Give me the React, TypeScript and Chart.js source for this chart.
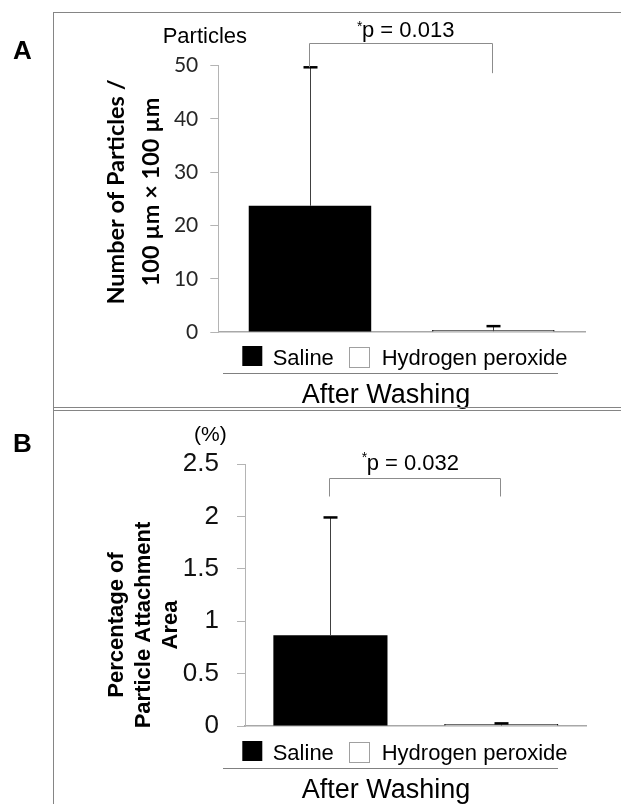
import React, { useEffect, useRef } from 'react';
import { Chart, registerables } from 'chart.js';

Chart.register(...registerables);

// ---------- data ----------
const categories = ['Saline', 'Hydrogen peroxide'];
const barFill = ['#000000', '#ffffff'];

const particleMeans = [23.7, 0.15];
const particleErrors = [26.0, 0.95];
const particleTicks = [0, 10, 20, 30, 40, 50];
const particleP = '0.013';
const particleBracket = [54.2, 49.7, 48.6]; // bracket level, left leg end, right leg end

const areaMeans = [0.865, 0.005];
const areaErrors = [1.125, 0.02];
const areaTicks = [0, 0.5, 1, 1.5, 2, 2.5];
const areaP = '0.032';
const areaBracket = [2.37, 2.19, 2.19];

type PanelCfg = {
  letter: string;
  letterBaseline: number;
  means: number[];
  errors: number[];
  ticks: number[];
  pText: string;
  bracket: number[];
  pX: number;
  pBaseline: number;
  starBaseline: number;
  unit: string;
  unitFont: string;
  unitX: number;
  unitBaseline: number;
  titleLines: string[];
  titleFont: string;
  titleBaselines: number[];
  titleCenterY: number;
  tickFont: { family: string; size: number };
  tickColor: string;
  tickPadding: number;
  legendBoxTop: number;
  legendBaseline: number;
  lineY: number;
  afterBaseline: number;
  padding: { left: number; top: number; right: number; bottom: number };
};

const SANS = "'Liberation Sans', Arial, sans-serif";
const Y_AXIS_BOX = 100;

const panelA: PanelCfg = {
  letter: 'A',
  letterBaseline: 59,
  means: particleMeans,
  errors: particleErrors,
  ticks: particleTicks,
  pText: particleP,
  bracket: particleBracket,
  pX: 362,
  pBaseline: 36.7,
  starBaseline: 31,
  unit: 'Particles',
  unitFont: `22px ${SANS}`,
  unitX: 162.7,
  unitBaseline: 43.3,
  titleLines: ['Number of Particles /', '100 \u00b5m \u00d7 100 \u00b5m'],
  titleFont: "bold 23.5px Lato, 'Open Sans', sans-serif",
  titleBaselines: [124, 159],
  titleCenterY: 192,
  tickFont: { family: "Lato, 'Open Sans', sans-serif", size: 21 },
  tickColor: '#262626',
  tickPadding: 12,
  legendBoxTop: 346,
  legendBaseline: 365,
  lineY: 373.3,
  afterBaseline: 402.7,
  padding: { left: 218.3 - Y_AXIS_BOX, top: 65.7, right: 36, bottom: 80 },
};

const panelB: PanelCfg = {
  letter: 'B',
  letterBaseline: 46,
  means: areaMeans,
  errors: areaErrors,
  ticks: areaTicks,
  pText: areaP,
  bracket: areaBracket,
  pX: 366.7,
  pBaseline: 64,
  starBaseline: 56,
  unit: '(%)',
  unitFont: `21px ${SANS}`,
  unitX: 194,
  unitBaseline: 35,
  titleLines: ['Percentage of', 'Particle Attachment', 'Area'],
  titleFont: `bold 22px ${SANS}`,
  titleBaselines: [123.3, 150, 176.7],
  titleCenterY: 219,
  tickFont: { family: SANS, size: 26 },
  tickColor: '#111111',
  tickPadding: 18,
  legendBoxTop: 335,
  legendBaseline: 354,
  lineY: 361.7,
  afterBaseline: 392.3,
  padding: { left: 245 - Y_AXIS_BOX, top: 58, right: 34.3, bottom: 78 },
};

function buildChart(canvas: HTMLCanvasElement, cfg: PanelCfg) {
  const decor = {
    id: 'panelDecor',
    afterDatasetsDraw(chart: any) {
      const ctx = chart.ctx as CanvasRenderingContext2D;
      const ys = chart.scales.y;
      const meta = chart.getDatasetMeta(0);
      ctx.save();
      // error bars (upper only)
      meta.data.forEach((bar: any, i: number) => {
        const x = Math.round(bar.x) + 0.5;
        const y0 = ys.getPixelForValue(cfg.means[i]);
        const y1 = ys.getPixelForValue(cfg.means[i] + cfg.errors[i]);
        ctx.strokeStyle = '#404040';
        ctx.lineWidth = 1;
        ctx.beginPath();
        ctx.moveTo(x, y0);
        ctx.lineTo(x, y1);
        ctx.stroke();
        ctx.strokeStyle = '#000000';
        ctx.lineWidth = 2.5;
        ctx.beginPath();
        ctx.moveTo(x - 7, y1);
        ctx.lineTo(x + 7, y1);
        ctx.stroke();
      });
      // significance bracket
      const xl = Math.round(meta.data[0].x) - 0.5;
      const xr = Math.round(meta.data[1].x) - 0.5;
      const yt = Math.round(ys.getPixelForValue(cfg.bracket[0])) + 0.5;
      const yl = ys.getPixelForValue(cfg.bracket[1]);
      const yr = ys.getPixelForValue(cfg.bracket[2]);
      ctx.strokeStyle = '#8c8c8c';
      ctx.lineWidth = 1;
      ctx.beginPath();
      ctx.moveTo(xl, yl);
      ctx.lineTo(xl, yt);
      ctx.lineTo(xr, yt);
      ctx.lineTo(xr, yr);
      ctx.stroke();
      ctx.restore();
    },
    afterDraw(chart: any) {
      const ctx = chart.ctx as CanvasRenderingContext2D;
      ctx.save();
      ctx.fillStyle = '#000000';
      ctx.textBaseline = 'alphabetic';
      // panel letter
      ctx.font = `bold 26px ${SANS}`;
      ctx.textAlign = 'left';
      ctx.fillText(cfg.letter, 13, cfg.letterBaseline);
      // unit label
      ctx.font = cfg.unitFont;
      ctx.fillText(cfg.unit, cfg.unitX, cfg.unitBaseline);
      // p value
      ctx.font = `14px ${SANS}`;
      ctx.fillText('*', cfg.pX - 5, cfg.starBaseline);
      ctx.font = `22px ${SANS}`;
      ctx.fillText('p = ' + cfg.pText, cfg.pX, cfg.pBaseline);
      // y title (rotated)
      ctx.font = cfg.titleFont;
      ctx.textAlign = 'center';
      cfg.titleLines.forEach((line, i) => {
        ctx.save();
        ctx.translate(cfg.titleBaselines[i], cfg.titleCenterY);
        ctx.rotate(-Math.PI / 2);
        ctx.fillText(line, 0, 0);
        ctx.restore();
      });
      // legend
      ctx.textAlign = 'left';
      ctx.font = `22px ${SANS}`;
      ctx.fillStyle = barFill[0];
      ctx.fillRect(242.3, cfg.legendBoxTop, 20, 20);
      ctx.fillStyle = barFill[1];
      ctx.fillRect(349.5, cfg.legendBoxTop + 1.5, 20, 20);
      ctx.strokeStyle = '#a0a0a0';
      ctx.lineWidth = 1;
      ctx.strokeRect(349.5, cfg.legendBoxTop + 1.5, 20, 20);
      ctx.fillStyle = '#000000';
      ctx.fillText(categories[0], 272.7, cfg.legendBaseline);
      ctx.fillText(categories[1], 381.7, cfg.legendBaseline);
      // line under legend
      ctx.strokeStyle = '#808080';
      ctx.beginPath();
      ctx.moveTo(223, Math.round(cfg.lineY) + 0.5);
      ctx.lineTo(558, Math.round(cfg.lineY) + 0.5);
      ctx.stroke();
      // group label
      ctx.font = `27px ${SANS}`;
      ctx.textAlign = 'center';
      ctx.fillText('After Washing', 386, cfg.afterBaseline);
      ctx.restore();
    },
  };

  return new Chart(canvas, {
    type: 'bar',
    data: {
      labels: categories,
      datasets: [
        {
          data: cfg.means,
          backgroundColor: barFill,
          borderColor: ['#000000', '#000000'],
          borderWidth: [0, 1.2],
          borderSkipped: 'start',
          minBarLength: 2,
          barPercentage: 0.668,
          categoryPercentage: 1,
        },
      ],
    },
    options: {
      animation: false,
      responsive: false,
      devicePixelRatio: window.devicePixelRatio || 1,
      layout: { padding: cfg.padding },
      plugins: {
        legend: { display: false },
        tooltip: { enabled: false },
        title: { display: false },
      },
      scales: {
        x: {
          type: 'category',
          grid: { display: false },
          ticks: { display: false },
          border: { display: true, color: '#a8a8a8', width: 1.5 },
          afterFit: (s: any) => {
            s.height = 0;
          },
        },
        y: {
          min: cfg.ticks[0],
          max: cfg.ticks[cfg.ticks.length - 1],
          afterBuildTicks: (s: any) => {
            s.ticks = cfg.ticks.map((v) => ({ value: v }));
          },
          afterFit: (s: any) => {
            s.width = Y_AXIS_BOX;
          },
          ticks: {
            font: cfg.tickFont,
            color: cfg.tickColor,
            padding: cfg.tickPadding,
            autoSkip: false,
            callback: (v: any) => String(v),
          },
          grid: {
            display: true,
            drawOnChartArea: false,
            drawTicks: true,
            tickLength: 8,
            color: '#b4b4b4',
            lineWidth: 1,
          },
          border: { display: true, color: '#b4b4b4', width: 1 },
        },
      },
    },
    plugins: [decor],
  } as any);
}

function Panel({ cfg, top, height }: { cfg: PanelCfg; top: number; height: number }) {
  const ref = useRef<HTMLCanvasElement | null>(null);
  useEffect(() => {
    if (!ref.current) return;
    const chart = buildChart(ref.current, cfg);
    return () => chart.destroy();
  }, [cfg]);
  return (
    <canvas
      ref={ref}
      width={621}
      height={height}
      style={{ position: 'absolute', left: 0, top, width: 621, height }}
    />
  );
}

const frameColor = '#858585';

export default function App() {
  return (
    <div
      style={{
        position: 'absolute',
        left: 0,
        top: 0,
        width: 621,
        height: 804,
        background: '#ffffff',
        overflow: 'hidden',
      }}
    >
      <Panel cfg={panelA} top={0} height={412} />
      <Panel cfg={panelB} top={406} height={398} />
      <div style={{ position: 'absolute', left: 53, top: 12, width: 568, height: 1, background: frameColor }} />
      <div style={{ position: 'absolute', left: 53, top: 12, width: 1, height: 792, background: frameColor }} />
      <div style={{ position: 'absolute', left: 53, top: 407, width: 568, height: 1, background: frameColor }} />
      <div style={{ position: 'absolute', left: 53, top: 410, width: 568, height: 1, background: frameColor }} />
    </div>
  );
}
